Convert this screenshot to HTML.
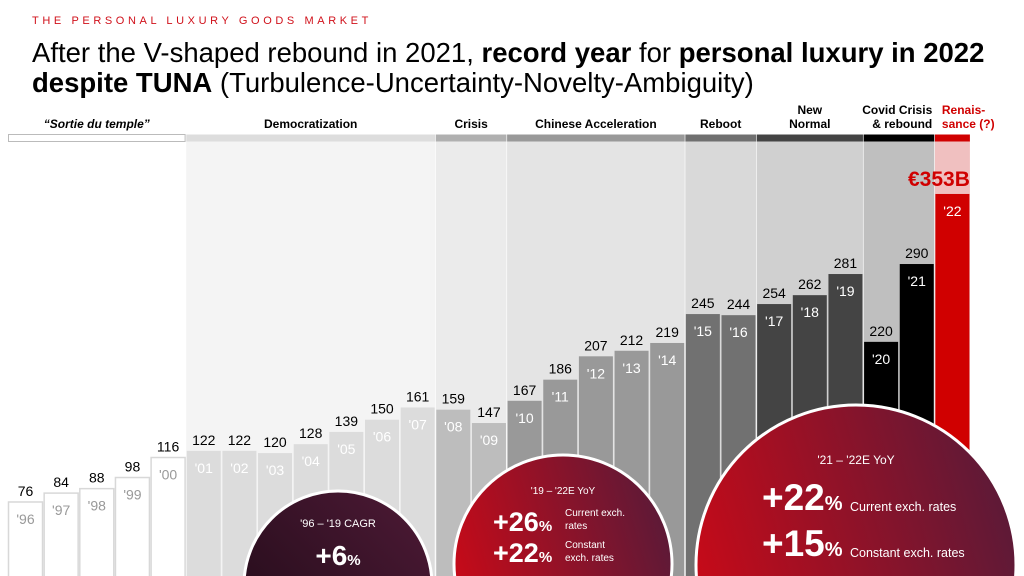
<!DOCTYPE html>
<html><head><meta charset="utf-8"><style>
html,body{margin:0;padding:0;background:#fff;width:1024px;height:576px;overflow:hidden;font-family:"Liberation Sans",Arial,sans-serif}
svg{display:block;overflow:hidden}
svg text{font-family:"Liberation Sans",Arial,sans-serif}
</style></head><body>
<svg id="chart" width="1024" height="576" viewBox="0 0 1024 576">
<defs>
<linearGradient id="gDark" x1="0" y1="1" x2="1" y2="0"><stop offset="0" stop-color="#1e0a16"/><stop offset="1" stop-color="#4e1a36"/></linearGradient>
<linearGradient id="gRed" x1="0" y1="0.6" x2="1" y2="0.3"><stop offset="0" stop-color="#c80a18"/><stop offset="1" stop-color="#5a1a38"/></linearGradient>
</defs>
<text x="32" y="24" fill="#d0101a" font-size="11" letter-spacing="3.6">THE PERSONAL LUXURY GOODS MARKET</text>
<text x="32" y="62" font-size="27.5" fill="#000">After the V-shaped rebound in 2021, <tspan font-weight="bold">record year</tspan> for <tspan font-weight="bold">personal luxury in 2022</tspan></text>
<text x="32" y="92" font-size="27.5" fill="#000"><tspan font-weight="bold">despite TUNA</tspan> (Turbulence-Uncertainty-Novelty-Ambiguity)</text>
<g id="bands"></g>
<g id="bars"></g>
<g id="circles"></g>
</svg>
<script>
const years = ["'96","'97","'98","'99","'00","'01","'02","'03","'04","'05","'06","'07","'08","'09","'10","'11","'12","'13","'14","'15","'16","'17","'18","'19","'20","'21","'22"];
const values = [76,84,88,98,116,122,122,120,128,139,150,161,159,147,167,186,207,212,219,245,244,254,262,281,220,290,353];
const phaseNames = ["“Sortie du temple”","Democratization","Crisis","Chinese Acceleration","Reboot","New|Normal","Covid Crisis|& rebound","Renais-|sance (?)"];
const phaseStart = [0,5,12,14,19,21,24,26];
const phaseEnd = [4,11,13,18,20,23,25,26];
const NS="http://www.w3.org/2000/svg";
const X0=8, STEP=35.65, BW=35, BASE=586.5, K=1.112, BOTTOM=576;
const xs=i=>X0+i*STEP;
const ys=v=>BASE-v*K;
const bandBg=["#ffffff","#f4f4f4","#ebebeb","#e4e4e4","#d9d9d9","#d0d0d0","#bfbfbf","#f0c0c0"];
const bandHd=["#ffffff","#dddddd","#b0b0b0","#999999","#707070","#444444","#000000","#d00000"];
const barCol=["#ffffff","#dcdcdc","#bdbdbd","#999999","#717171","#444444","#000000","#d00000"];
const yrCol=["#999","#fff","#fff","#fff","#fff","#fff","#fff","#fff"];
function mk(t,a,p){const e=document.createElementNS(NS,t);for(const k in a)e.setAttribute(k,a[k]);p.appendChild(e);return e;}
const gB=document.getElementById('bands'),gR=document.getElementById('bars'),gC=document.getElementById('circles');
function phaseOf(i){for(let p=0;p<phaseStart.length;p++)if(i>=phaseStart[p]&&i<=phaseEnd[p])return p;return 0;}
phaseNames.forEach((n,p)=>{
  const x1=xs(phaseStart[p]), x2=xs(phaseEnd[p])+BW;
  const bg=mk('rect',{x:x1,y:141,width:x2-x1,height:BOTTOM-141,fill:bandBg[p]},gB);
  
  
  const hd=mk('rect',{x:x1+(p==0?0.5:0),y:134.5,width:x2-x1-(p==0?1:0),height:7,fill:bandHd[p],stroke:p==0?'#bbb':'none'},gB);
  
  
  const lines=n.split('|');
  let ax=(x1+x2)/2, anchor='middle';
  if(p==6){ax=x2-2;anchor='end';}
  if(p==7){ax=x1+7;anchor='start';}
  const t=mk('text',{x:ax,y:lines.length>1?114:128,'text-anchor':anchor,'font-size':12,'font-weight':'bold',fill:p==7?'#d00000':'#000','font-style':p==0?'italic':'normal'},gB);
  
  
  lines.forEach((l,j)=>{const ts=mk('tspan',{x:ax,dy:j?14:0},t);ts.textContent=l;});
});
values.forEach((v,i)=>{
  const p=phaseOf(i);
  const r=mk('rect',{x:xs(i)+0.5,y:ys(v),width:BW-1,height:BOTTOM+2-ys(v),fill:barCol[p],stroke:p==0?'#d8d8d8':'none','stroke-width':1.5},gR);
  
  
  if(i<values.length-1){
    const vt=mk('text',{x:xs(i)+BW/2,y:ys(v)-6,'text-anchor':'middle','font-size':14,fill:'#000'},gR);
    vt.textContent=v;
    
    
  }
  const yt=mk('text',{x:xs(i)+BW/2,y:ys(v)+22,'text-anchor':'middle','font-size':14,fill:yrCol[p]},gR);
  yt.textContent=years[i];
  
  
});
const last=values.length-1;
const tot=mk('text',{x:xs(last)+BW,y:ys(values[last])-8,'text-anchor':'end','font-size':21,'font-weight':'bold',fill:'#d00000'},gR);
tot.textContent='€'+values[last]+'B';



function circ(cx,cy,r,fill,name){const c=mk('circle',{cx:cx,cy:cy,r:r,fill:fill,stroke:'#fff','stroke-width':3},gC);}
function txt(x,y,s,str,extra,name){const t=mk('text',Object.assign({x:x,y:y,'font-size':s,fill:'#fff'},extra||{}),gC);t.innerHTML=str;return t;}
circ(338,585,94,'url(#gDark)','cagr-circle');
txt(338,527,11,"'96 – '19 CAGR",{'text-anchor':'middle'},'cagr-caption');
txt(338,565,28,"+6<tspan font-size='15'>%</tspan>",{'text-anchor':'middle','font-weight':'bold'},'cagr-value');
circ(563,564,109,'url(#gRed)','yoy-19-22-circle');
txt(563,494,10,"'19 – '22E  YoY",{'text-anchor':'middle'},'yoy-19-22-caption');
txt(493,531,27,"+26<tspan font-size='15'>%</tspan>",{'font-weight':'bold'},'yoy-19-22-current');
txt(565,516,10,"Current exch.",{},'current-label');
txt(565,529,10,"rates",{},'current-label-2');
txt(493,562,27,"+22<tspan font-size='15'>%</tspan>",{'font-weight':'bold'},'yoy-19-22-constant');
txt(565,548,10,"Constant",{},'constant-label');
txt(565,561,10,"exch. rates",{},'constant-label-2');
circ(856,565,160,'url(#gRed)','yoy-21-22-circle');
txt(856,464,12,"'21 – '22E  YoY",{'text-anchor':'middle'},'yoy-21-22-caption');
txt(762,510,37,"+22<tspan font-size='20'>%</tspan>",{'font-weight':'bold'},'yoy-21-22-current');
txt(850,511,12.5,"Current exch. rates",{},'current-rates-label');
txt(762,556,37,"+15<tspan font-size='20'>%</tspan>",{'font-weight':'bold'},'yoy-21-22-constant');
txt(850,557,12.5,"Constant exch. rates",{},'constant-rates-label');
</script>
</body></html>
